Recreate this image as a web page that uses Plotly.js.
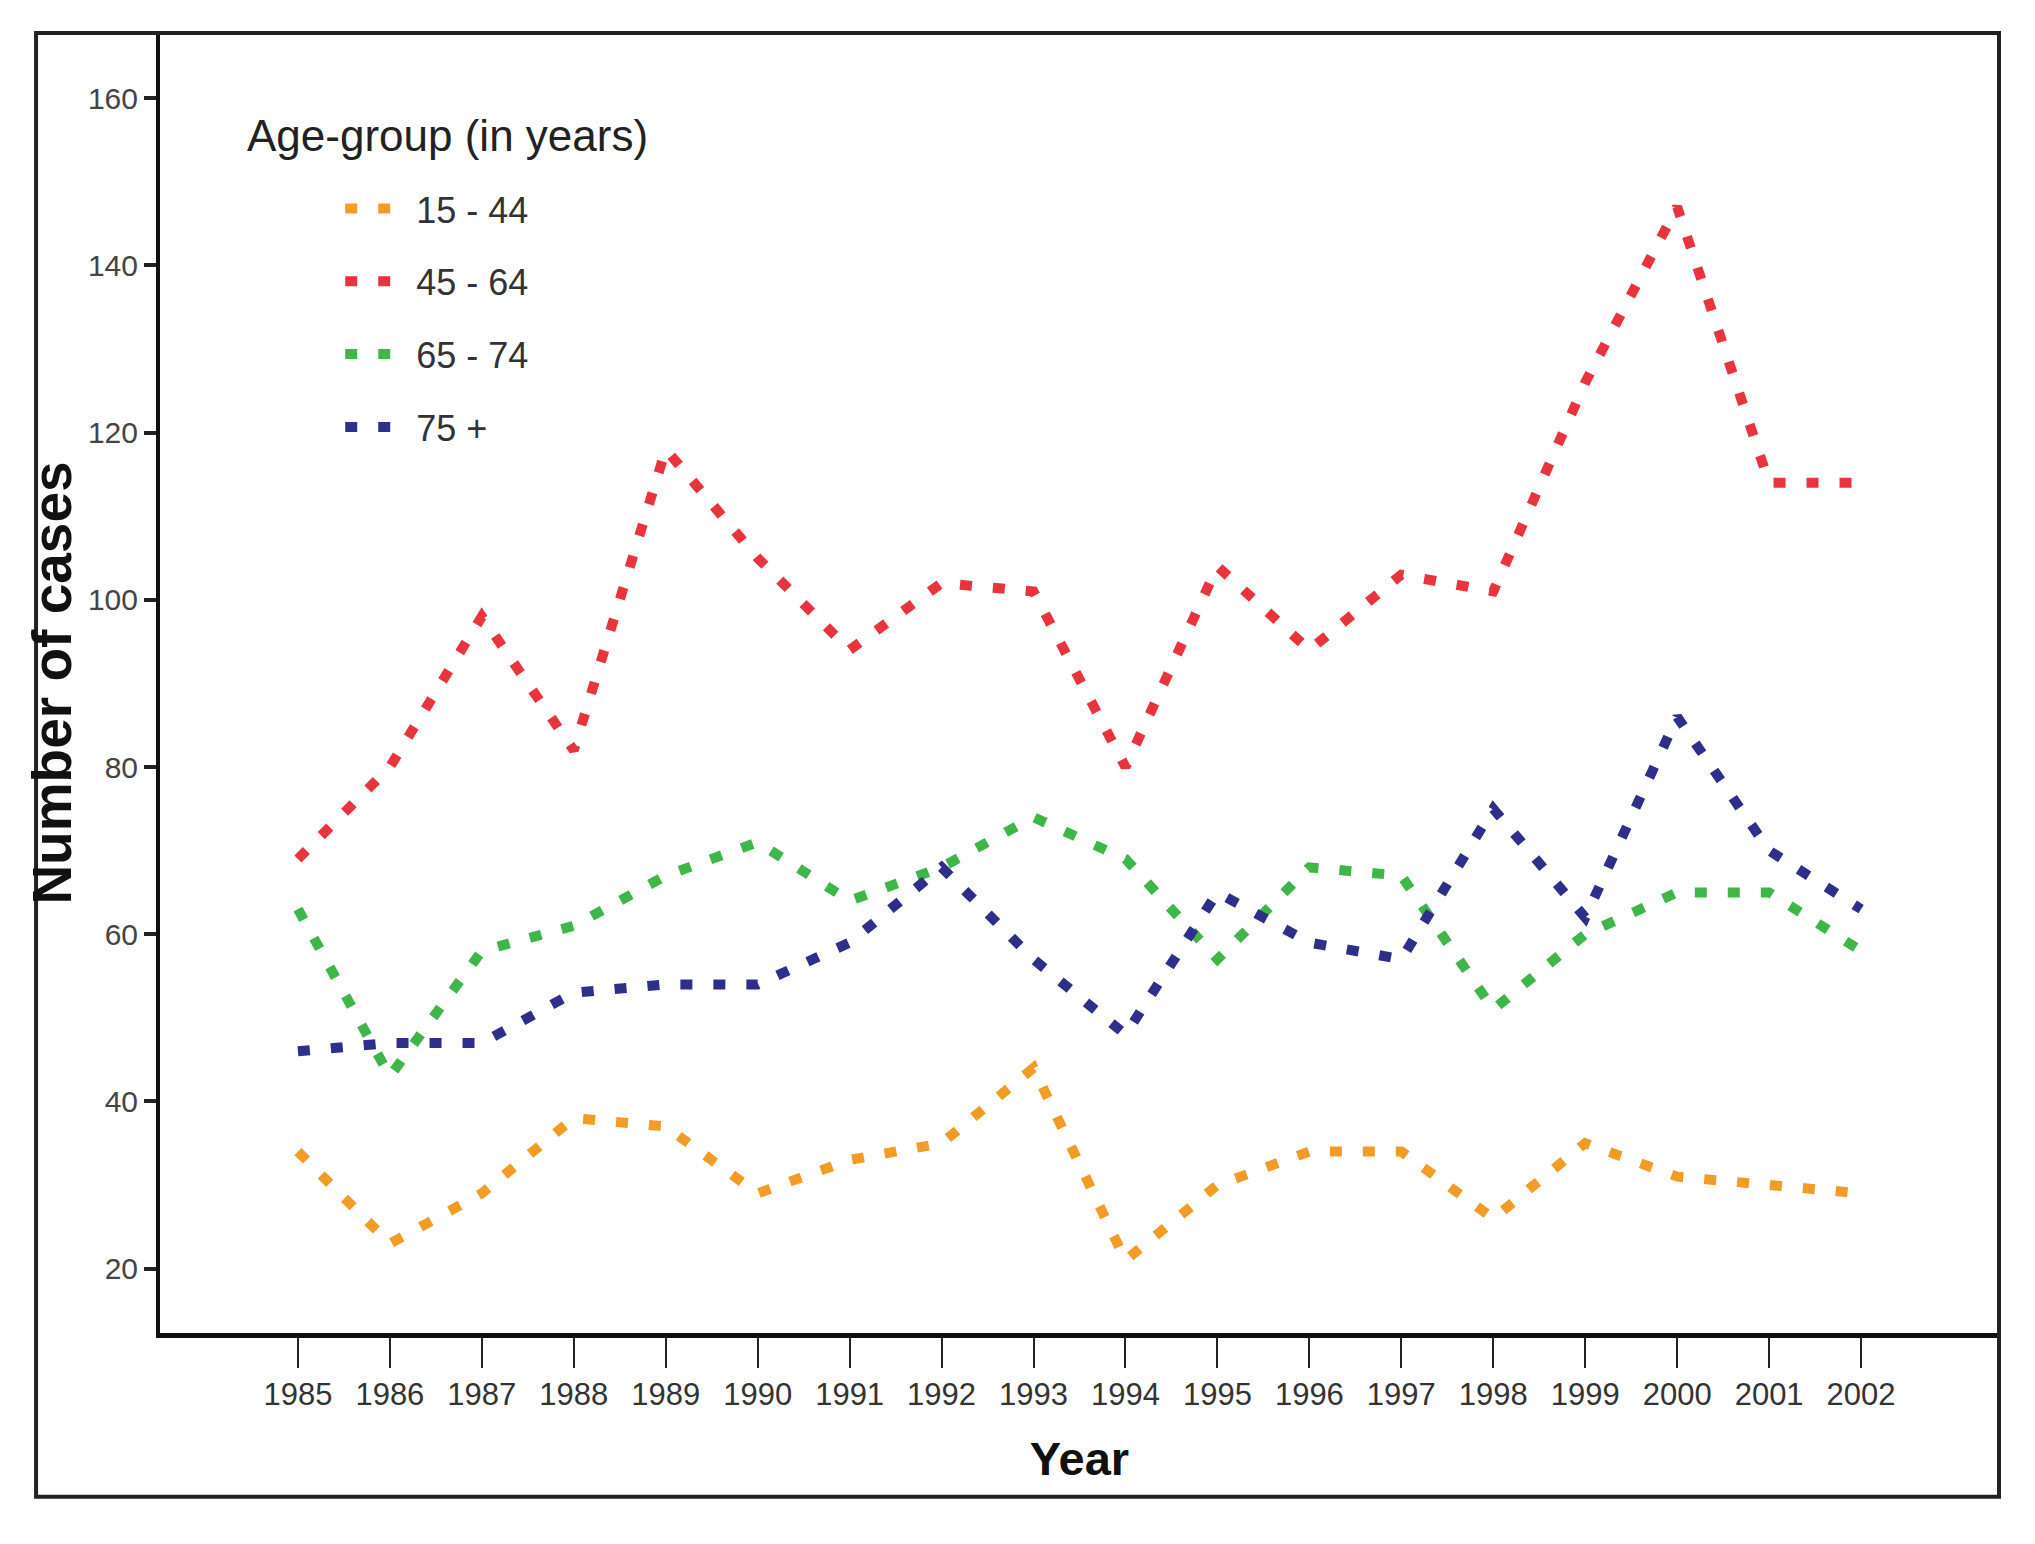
<!DOCTYPE html>
<html>
<head>
<meta charset="utf-8">
<script src="https://cdn.plot.ly/plotly-3.0.1.min.js"></script>
<style>
  html, body { margin: 0; padding: 0; background: #fff; }
  #chart { width: 2035px; height: 1544px; }
</style>
</head>
<body>
<div id="chart"></div>
<script>
// data
var years = [1985, 1986, 1987, 1988, 1989, 1990, 1991, 1992, 1993, 1994, 1995, 1996, 1997, 1998, 1999, 2000, 2001, 2002];
var age15to44 = [34, 23, 29, 38, 37, 29, 33, 35, 44, 21, 30, 34, 34, 26, 35, 31, 30, 29];
var age45to64 = [69, 80, 98, 82, 118, 105, 94, 102, 101, 80, 104, 94, 103, 101, 126, 147, 114, 114];
var age65to74 = [63, 43, 58, 61, 67, 71, 64, 68, 74, 69, 57, 68, 67, 51, 60, 65, 65, 58];
var age75plus = [46, 47, 47, 53, 54, 54, 59, 68, 57, 48, 65, 59, 57, 75, 62, 86, 70, 63];
var seriesNames = ['15 - 44', '45 - 64', '65 - 74', '75 +'];
var seriesColors = ['#f39c25', '#e8343c', '#3fb64a', '#2d2f8a'];
var yTicks = [20, 40, 60, 80, 100, 120, 140, 160];

var sans = '"Liberation Sans", Arial, sans-serif';

var allSeries = [age15to44, age45to64, age65to74, age75plus];
var traces = [];
for (var i = 0; i < allSeries.length; i++) {
    traces.push({
        x: years,
        y: allSeries[i],
        mode: 'lines',
        type: 'scatter',
        name: seriesNames[i],
        legendgroup: 'g' + i,
        line: {color: seriesColors[i], width: 10, dash: '12px,21px'}
    });
}

var layout = {
    width: 2035,
    height: 1544,
    paper_bgcolor: '#fff',
    plot_bgcolor: '#fff',
    margin: {l: 160, r: 36, t: 33, b: 211},
    showlegend: true,
    legend: {
        x: 0.098, y: 0.888, xanchor: 'left', yanchor: 'top',
        font: {family: sans, size: 36, color: '#333'},
        bgcolor: 'rgba(0,0,0,0)',
        traceorder: 'grouped',
        tracegroupgap: 23,
        itemwidth: 66
    },
    xaxis: {
        range: [1983.5, 2003.5],
        tickvals: years,
        ticktext: years.map(String),
        ticks: 'outside', ticklen: 30, tickwidth: 2, tickcolor: '#222',
        showline: true, linewidth: 5, linecolor: '#111',
        showgrid: false, zeroline: false,
        tickfont: {family: sans, size: 31, color: '#333'},
        automargin: true,
        title: {text: 'Year', standoff: 32, font: {family: sans, size: 47, color: '#111', weight: 'bold'}}
    },
    yaxis: {
        range: [12.3, 167.8],
        tickvals: yTicks,
        ticks: 'outside', ticklen: 12, tickwidth: 4, tickcolor: '#222',
        showline: true, linewidth: 4, linecolor: '#111',
        showgrid: false, zeroline: false,
        tickfont: {family: sans, size: 30, color: '#444'},
        automargin: true,
        title: {text: 'Number of cases', standoff: 0, font: {family: sans, size: 55, color: '#111', weight: 'bold'}}
    },
    shapes: [{
        type: 'rect', xref: 'paper', yref: 'paper',
        x0: -0.0674, x1: 1.0, y0: -0.126, y1: 1.0,
        line: {color: '#222', width: 4}
    }],
    annotations: [{
        text: 'Age-group (in years)',
        xref: 'paper', yref: 'paper', x: 0.046, y: 0.9215,
        xanchor: 'left', yanchor: 'middle', showarrow: false,
        font: {family: sans, size: 44, color: '#222'}
    }]
};

Plotly.newPlot('chart', traces, layout, {displayModeBar: false, staticPlot: true});
</script>
</body>
</html>
